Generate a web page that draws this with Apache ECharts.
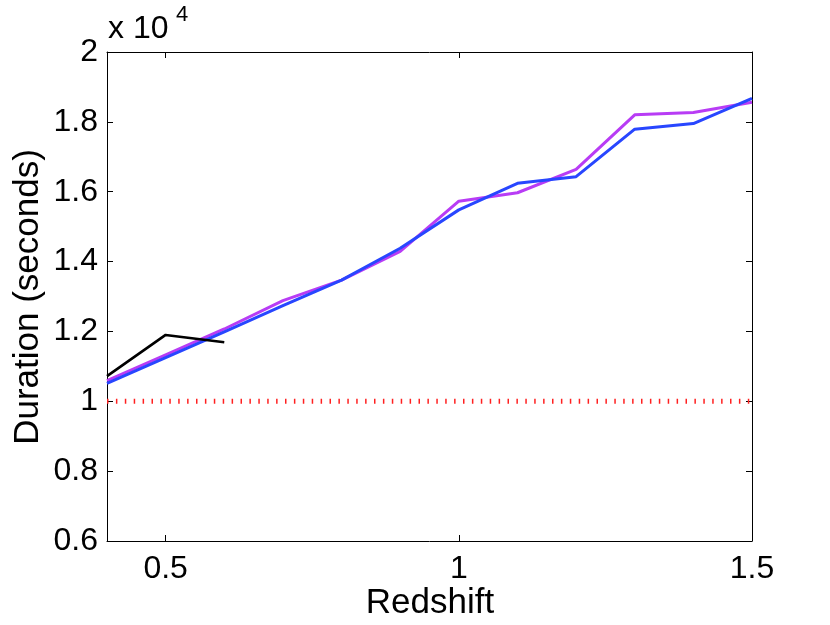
<!DOCTYPE html>
<html>
<head>
<meta charset="utf-8">
<script src="https://cdn.jsdelivr.net/npm/echarts@6/dist/echarts.min.js"></script>
<style>
html,body{margin:0;padding:0;background:#fff;}
#chart{width:830px;height:625px;}
</style>
</head>
<body>
<div id="chart"></div>
<script>
var redshift = [0.4, 0.5, 0.6, 0.7, 0.8, 0.9, 1.0, 1.1, 1.2, 1.3, 1.4, 1.5];
var magentaDur = [10590, 11330, 12070, 12880, 13470, 14290, 15730, 15970, 16640, 18200, 18270, 18560];
var blueDur = [10515, 11250, 11990, 12740, 13470, 14380, 15480, 16240, 16430, 17790, 17950, 18670];
var blackZ = [0.4, 0.5, 0.6];
var blackDur = [10720, 11900, 11690];
var refLevel = 10000;
var xTicks = [0.5, 1, 1.5];

function pairs(xs, ys){ return xs.map(function(x,i){ return [x, ys[i]]; }); }

var FONT = 'Liberation Sans, Arial, Helvetica, sans-serif';
var chart = echarts.init(document.getElementById('chart'), null, {renderer:'canvas'});
var axisLine = {show:true, onZero:false, lineStyle:{color:'#000', width:1}};
var tickStyle = {color:'#000', width:1};
chart.setOption({
  animation:false,
  backgroundColor:'#fff',
  grid:{left:107, right:78, top:52, bottom:84, containLabel:false},
  xAxis:[
    {type:'value', min:0.4, max:1.5, position:'bottom', splitLine:{show:false}, axisLine:axisLine,
      axisTick:{show:true, inside:true, length:6, customValues:xTicks, lineStyle:tickStyle},
      axisLabel:{show:true, customValues:xTicks, color:'#000', fontSize:32, fontFamily:FONT, margin:12,
        formatter:function(v){return String(+(+v).toFixed(1));}}},
    {type:'value', min:0.4, max:1.5, position:'top', splitLine:{show:false}, axisLine:axisLine,
      axisTick:{show:true, inside:true, length:6, customValues:xTicks, lineStyle:tickStyle},
      axisLabel:{show:false}}
  ],
  yAxis:[
    {type:'value', min:6000, max:20000, interval:2000, position:'left', splitLine:{show:false}, axisLine:axisLine,
      axisTick:{show:true, inside:true, length:6, lineStyle:tickStyle},
      axisLabel:{show:true, color:'#000', fontSize:32, fontFamily:FONT, margin:9,
        formatter:function(v){return String(+(v/10000).toFixed(1));}}},
    {type:'value', min:6000, max:20000, interval:2000, position:'right', splitLine:{show:false}, axisLine:axisLine,
      axisTick:{show:true, inside:true, length:6, lineStyle:tickStyle},
      axisLabel:{show:false}}
  ],
  series:[
    {type:'line', data:[[0.4, refLevel],[1.5, refLevel]], symbol:'none', silent:true,
      lineStyle:{color:'#ff2020', width:5, type:[1.5,7.4], cap:'butt'}},
    {type:'line', data:pairs(redshift, magentaDur), symbol:'none', lineStyle:{color:'#b83cf5', width:3}},
    {type:'line', data:pairs(redshift, blueDur), symbol:'none', lineStyle:{color:'#2846ff', width:3}},
    {type:'line', data:pairs(blackZ, blackDur), symbol:'none', lineStyle:{color:'#000', width:2.6}}
  ],
  graphic:[
    {type:'text', x:430, y:603, style:{text:'Redshift', font:'35px '+FONT, fill:'#000', align:'center', verticalAlign:'middle'}},
    {type:'text', x:28, y:297, rotation:Math.PI/2, style:{text:'Duration (seconds)', font:'35px '+FONT, fill:'#000', align:'center', verticalAlign:'middle'}},
    {type:'text', x:108, y:45, style:{text:'x 10', font:'32px '+FONT, fill:'#000', align:'left', verticalAlign:'bottom'}},
    {type:'text', x:176, y:26, style:{text:'4', font:'22px '+FONT, fill:'#000', align:'left', verticalAlign:'bottom'}}
  ]
});
</script>
</body>
</html>
